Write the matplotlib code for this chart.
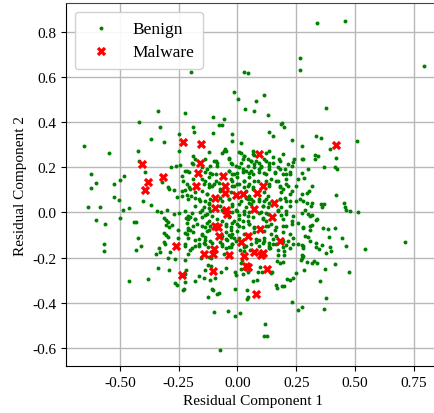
import numpy as np
import matplotlib
matplotlib.use("Agg")
import matplotlib.pyplot as plt

# benign points (x, y)
benign = [
    (-0.198, 0.622), (-0.337, 0.447), (-0.221, 0.439), (-0.417, 0.400), (-0.328, 0.379),
    (0.026, 0.622), (0.046, 0.616), (0.267, 0.683), (0.266, 0.632), (-0.014, 0.533),
    (0.003, 0.501), (0.113, 0.521), (0.078, 0.492), (0.034, 0.456), (0.069, 0.450),
    (0.129, 0.430), (-0.103, 0.421), (-0.057, 0.415), (-0.187, 0.378), (-0.079, 0.385),
    (-0.066, 0.388), (0.188, 0.394), (0.200, 0.376), (0.338, 0.839), (0.458, 0.847),
    (0.795, 0.650), (0.376, 0.464),
    # left part
    (-0.249, 0.345), (-0.366, 0.324), (-0.313, 0.312), (-0.654, 0.296), (-0.544, 0.265),
    (-0.424, 0.270), (-0.250, 0.270), (-0.419, 0.228), (-0.392, 0.181), (-0.284, 0.199),
    (-0.260, 0.206), (-0.243, 0.209), (-0.216, 0.184), (-0.204, 0.181), (-0.194, 0.221),
    (-0.622, 0.170), (-0.599, 0.132), (-0.624, 0.107), (-0.526, 0.128), (-0.501, 0.144),
    (-0.480, 0.161), (-0.319, 0.136), (-0.297, 0.112), (-0.289, 0.102), (-0.269, 0.098),
    (-0.524, 0.070), (-0.504, 0.056), (-0.401, 0.050), (-0.366, 0.032), (-0.257, 0.067),
    (-0.237, 0.096), (-0.223, 0.100), (-0.204, 0.113), (-0.216, 0.076), (-0.198, 0.071),
    (-0.637, 0.025), (-0.585, 0.025), (-0.488, 0.009), (-0.460, 0.022), (-0.340, 0.006),
    (-0.323, 0.004), (-0.300, 0.010), (-0.270, -0.006), (-0.250, -0.001),
    (-0.602, -0.034), (-0.563, -0.053), (-0.501, -0.025), (-0.438, -0.041), (-0.430, -0.041),
    (-0.313, -0.026), (-0.305, -0.034), (-0.297, -0.040), (-0.302, -0.056), (-0.290, -0.063),
    (-0.280, -0.057), (-0.310, -0.089), (-0.303, -0.100), (-0.294, -0.107), (-0.254, -0.079),
    (-0.220, -0.026), (-0.208, -0.027), (-0.201, -0.019), (-0.211, -0.070), (-0.201, -0.079),
    (-0.216, -0.095), (-0.424, -0.111), (-0.568, -0.138), (-0.408, -0.148), (-0.332, -0.156),
    (-0.254, -0.113), (-0.309, -0.141),
    # lower left
    (-0.566, -0.172), (-0.432, -0.164), (-0.328, -0.175), (-0.344, -0.184), (-0.312, -0.132),
    (-0.288, -0.176), (-0.297, -0.201), (-0.266, -0.206), (-0.223, -0.139), (-0.200, -0.168),
    (-0.208, -0.185), (-0.221, -0.210), (-0.339, -0.244), (-0.290, -0.253), (-0.461, -0.302),
    (-0.379, -0.295), (-0.217, -0.253), (-0.267, -0.313), (-0.256, -0.321), (-0.223, -0.308),
    (-0.225, -0.338), (-0.233, -0.344),
    # lower middle
    (-0.193, -0.159), (-0.165, -0.138), (-0.141, -0.136), (-0.125, -0.154), (-0.156, -0.200),
    (-0.122, -0.197), (-0.111, -0.200), (-0.065, -0.141), (-0.075, -0.132), (-0.055, -0.185),
    (-0.026, -0.153), (-0.022, -0.138), (0.010, -0.164), (0.029, -0.154), (0.026, -0.172),
    (0.019, -0.209), (0.014, -0.224), (0.055, -0.164), (0.079, -0.132), (0.108, -0.135),
    (0.093, -0.150), (0.139, -0.159), (0.151, -0.138), (0.172, -0.167), (0.172, -0.190),
    (0.197, -0.172), (0.197, -0.188), (0.208, -0.145), (0.238, -0.141), (0.259, -0.138),
    (0.276, -0.143), (0.273, -0.187), (0.276, -0.201), (0.269, -0.209), (0.251, -0.267),
    (0.168, -0.216), (0.180, -0.224), (0.194, -0.221), (0.096, -0.239), (0.089, -0.261),
    (0.103, -0.265), (0.147, -0.261), (0.144, -0.268), (0.017, -0.250), (0.024, -0.271),
    (0.043, -0.265), (-0.012, -0.262), (-0.007, -0.277), (-0.049, -0.246), (-0.070, -0.265),
    (-0.094, -0.288), (-0.221, -0.272), (-0.180, -0.305), (-0.165, -0.283), (-0.144, -0.290),
    (-0.115, -0.298), (-0.137, -0.253), (-0.125, -0.232), (-0.111, -0.236), (-0.108, -0.339),
    (-0.103, -0.345), (-0.079, -0.357), (-0.086, -0.360), (-0.125, -0.375), (-0.012, -0.339),
    (0.042, -0.342), (0.068, -0.302), (0.082, -0.298), (0.047, -0.375), (0.040, -0.384),
    (0.164, -0.321), (0.169, -0.333), (0.190, -0.323), (0.197, -0.323), (0.211, -0.295),
    (0.225, -0.298), (0.238, -0.290), (0.233, -0.394), (0.257, -0.431), (0.276, -0.416),
    (-0.098, -0.441), (-0.040, -0.437), (-0.012, -0.458), (0.010, -0.446), (0.116, -0.493),
    (0.111, -0.547), (0.126, -0.547), (-0.076, -0.606),
    # lower right
    (0.335, -0.133), (0.358, -0.144), (0.332, -0.152), (0.346, -0.160), (0.394, -0.152),
    (0.398, -0.172), (0.375, -0.179), (0.280, -0.155), (0.460, -0.148), (0.543, -0.161),
    (0.714, -0.130), (0.280, -0.194), (0.294, -0.219), (0.316, -0.222), (0.325, -0.213),
    (0.338, -0.222), (0.414, -0.228), (0.284, -0.256), (0.372, -0.249), (0.475, -0.261),
    (0.353, -0.302), (0.378, -0.376), (0.369, -0.428),
    # right
    (0.335, 0.338), (0.356, 0.330), (0.510, 0.314), (0.395, 0.283), (0.330, 0.256),
    (0.341, 0.252), (0.328, 0.237), (0.418, 0.239), (0.280, 0.236), (0.366, 0.200),
    (0.414, 0.203), (0.422, 0.194), (0.284, 0.151), (0.306, 0.095), (0.296, 0.084),
    (0.421, 0.076), (0.280, 0.050), (0.312, 0.028), (0.356, 0.036), (0.366, 0.037),
    (0.358, 0.025), (0.454, 0.040), (0.456, 0.025), (0.460, 0.013), (0.477, 0.008),
    (0.513, 0.004), (0.302, -0.006), (0.316, -0.012), (0.339, -0.028), (0.332, -0.034),
    (0.316, -0.055), (0.309, -0.076), (0.280, -0.064), (0.362, -0.068), (0.384, -0.074),
    (0.414, -0.070), (0.287, -0.105), (0.299, -0.108), (0.389, -0.108), (0.444, -0.111),
    # centre
    (-0.185, 0.354), (-0.105, 0.351), (-0.022, 0.347), (0.134, 0.358), (0.151, 0.339),
    (0.187, 0.393), (0.230, 0.321), (-0.022, 0.317), (0.014, 0.306),
    (-0.053, 0.283), (-0.050, 0.273), (-0.065, 0.265), (0.014, 0.265), (0.029, 0.250),
    (0.065, 0.273), (0.072, 0.253), (0.122, 0.265), (0.273, 0.295), (0.241, 0.236),
    (0.237, 0.224), (0.177, 0.236), (0.151, 0.221),
    (-0.180, 0.236), (-0.093, 0.228), (-0.086, 0.221), (-0.036, 0.243), (-0.029, 0.221),
    (-0.007, 0.206), (0.014, 0.221), (0.043, 0.236), (0.057, 0.228), (0.079, 0.228),
    (0.093, 0.221), (0.122, 0.228), (0.136, 0.221), (0.101, 0.206), (0.273, 0.236),
    (-0.223, 0.184), (-0.129, 0.191), (-0.115, 0.176), (-0.093, 0.169), (-0.036, 0.184),
    (-0.022, 0.169), (0.000, 0.176), (0.022, 0.191), (0.036, 0.184), (0.050, 0.176),
    (0.065, 0.169), (0.072, 0.199), (0.093, 0.191), (0.115, 0.176), (0.136, 0.191),
    (0.158, 0.176), (0.180, 0.191), (0.208, 0.169), (0.223, 0.169), (0.259, 0.147),
    (0.273, 0.176), (0.302, 0.191), (-0.237, 0.161),
    (-0.230, 0.139), (-0.216, 0.124), (-0.201, 0.102), (-0.136, 0.139), (-0.122, 0.124),
    (-0.108, 0.117), (-0.079, 0.132), (-0.072, 0.102), (-0.022, 0.139), (-0.014, 0.117),
    (0.007, 0.124), (0.029, 0.139), (0.043, 0.117), (0.065, 0.102), (0.086, 0.139),
    (0.122, 0.139), (0.136, 0.124), (0.165, 0.139), (0.180, 0.117), (0.194, 0.102),
    (0.208, 0.124), (0.230, 0.095), (0.251, 0.117), (0.273, 0.080), (0.316, 0.117),
    (-0.237, 0.073), (-0.208, 0.058), (-0.180, 0.065), (-0.158, 0.050), (-0.129, 0.080),
    (-0.122, 0.043), (-0.072, 0.065), (-0.036, 0.058), (-0.022, 0.036), (0.014, 0.050),
    (0.036, 0.065), (0.050, 0.043), (0.057, 0.058), (0.093, 0.050), (0.108, 0.028),
    (0.122, 0.058), (0.136, 0.043), (0.180, 0.058), (0.201, 0.065), (0.223, 0.050),
    (0.251, 0.050), (0.266, 0.058), (0.295, 0.043), (0.316, 0.043),
    (-0.223, 0.006), (-0.208, -0.016), (-0.194, -0.001), (-0.151, 0.013), (-0.136, -0.009),
    (-0.122, 0.021), (-0.108, -0.016), (-0.065, 0.013), (-0.036, -0.016), (-0.007, 0.013),
    (0.007, -0.009), (0.029, 0.006), (0.043, -0.016), (0.093, -0.001), (0.108, -0.024),
    (0.122, -0.001), (0.172, 0.013), (0.187, -0.009), (0.208, 0.006), (0.237, -0.016),
    (0.273, -0.001), (0.309, -0.016), (0.287, 0.013),
    (-0.216, -0.046), (-0.187, -0.061), (-0.180, -0.031), (-0.151, -0.061), (-0.129, -0.046),
    (-0.122, -0.076), (-0.065, -0.039), (-0.050, -0.061), (-0.029, -0.076), (-0.022, -0.046),
    (0.007, -0.061), (0.022, -0.039), (0.050, -0.053), (0.072, -0.068), (0.122, -0.061),
    (0.144, -0.053), (0.158, -0.076), (0.194, -0.061), (0.230, -0.053), (0.259, -0.046),
    (0.280, -0.068), (0.309, -0.061), (-0.208, -0.076), (-0.223, -0.090),
    (-0.208, -0.113), (-0.180, -0.120), (-0.151, -0.098), (-0.136, -0.120), (-0.108, -0.135),
    (-0.065, -0.105), (-0.043, -0.120), (-0.036, -0.098), (-0.014, -0.113), (0.007, -0.113),
    (0.043, -0.098), (0.093, -0.120), (0.115, -0.113), (0.136, -0.135), (0.165, -0.105),
    (0.194, -0.127), (0.237, -0.113), (0.280, -0.150), (0.309, -0.127), (-0.223, -0.150),
    (-0.165, -0.150), (-0.050, -0.157), (0.136, -0.157), (0.223, -0.157),
    # dense core
    (-0.057, 0.274), (0.007, 0.266), (0.029, 0.251), (0.065, 0.259), (0.136, 0.274),
    (0.151, 0.244), (0.194, 0.259), (-0.187, 0.251), (-0.122, 0.266),
    (-0.137, 0.237), (-0.100, 0.229), (-0.036, 0.237), (0.022, 0.237), (0.057, 0.229),
    (0.115, 0.237), (0.180, 0.229), (0.216, 0.215), (-0.187, 0.215),
    (-0.151, 0.200), (-0.115, 0.207), (-0.086, 0.207), (-0.022, 0.215), (0.007, 0.200),
    (0.043, 0.207), (0.072, 0.215), (0.101, 0.200), (0.136, 0.207), (0.172, 0.200),
    (0.201, 0.192), (0.230, 0.207),
    (-0.137, 0.178), (-0.108, 0.170), (-0.036, 0.185), (-0.014, 0.170), (0.022, 0.178),
    (0.057, 0.185), (0.093, 0.178), (0.122, 0.170), (0.158, 0.178), (0.194, 0.170),
    (0.223, 0.178),
    (-0.187, 0.148), (-0.151, 0.148), (-0.122, 0.155), (-0.093, 0.141), (-0.029, 0.148),
    (0.000, 0.155), (0.029, 0.141), (0.050, 0.155), (0.072, 0.141), (0.144, 0.148),
    (0.172, 0.141), (0.208, 0.148),
    (-0.144, 0.126), (-0.122, 0.111), (-0.100, 0.126), (-0.022, 0.119), (0.000, 0.126),
    (0.029, 0.111), (0.050, 0.126), (0.065, 0.111), (0.136, 0.119), (0.180, 0.111),
    (0.216, 0.119),
    (-0.180, 0.089), (-0.151, 0.096), (-0.129, 0.082), (-0.072, 0.096), (-0.029, 0.089),
    (0.036, 0.096), (0.050, 0.074), (0.115, 0.089), (0.129, 0.074), (0.187, 0.089),
    (0.223, 0.082),
    (-0.165, 0.060), (-0.137, 0.052), (-0.115, 0.060), (-0.065, 0.052), (-0.036, 0.060),
    (0.043, 0.060), (0.065, 0.052), (0.093, 0.060), (0.115, 0.052), (0.180, 0.060),
    (0.208, 0.052),
    (-0.180, 0.030), (-0.144, 0.023), (-0.122, 0.037), (-0.072, 0.030), (-0.022, 0.030),
    (0.007, 0.037), (0.036, 0.023), (0.057, 0.037), (0.108, 0.030), (0.129, 0.023),
    (0.187, 0.023), (0.223, 0.030),
    (-0.158, 0.001), (-0.129, -0.007), (-0.115, 0.008), (-0.022, 0.001), (0.000, 0.008),
    (0.029, -0.007), (0.050, 0.001), (0.101, 0.001), (0.129, -0.007), (0.172, 0.008),
    (0.208, -0.007),
    (-0.180, -0.029), (-0.151, -0.021), (-0.122, -0.036), (-0.086, -0.029), (-0.036, -0.021),
    (-0.014, -0.036), (0.007, -0.029), (0.043, -0.036), (0.065, -0.021), (0.108, -0.029),
    (0.122, -0.036), (0.194, -0.029), (0.230, -0.036),
    (-0.172, -0.051), (-0.137, -0.066), (-0.115, -0.058), (-0.050, -0.051), (-0.029, -0.066),
    (0.000, -0.051), (0.022, -0.066), (0.050, -0.051), (0.072, -0.066), (0.129, -0.058),
    (0.165, -0.066), (0.208, -0.058),
    (-0.187, -0.088), (-0.151, -0.095), (-0.129, -0.080), (-0.050, -0.088), (-0.022, -0.095),
    (0.000, -0.080), (0.029, -0.095), (0.072, -0.088), (0.115, -0.080), (0.144, -0.095),
    (0.194, -0.088), (0.223, -0.095),
    (-0.165, -0.117), (-0.137, -0.110), (-0.115, -0.124), (-0.050, -0.117), (-0.029, -0.110),
    (-0.007, -0.124), (0.079, -0.117), (0.115, -0.124), (0.151, -0.117), (0.216, -0.124),
    (-0.180, -0.147), (-0.137, -0.139), (-0.065, -0.147), (-0.036, -0.154), (-0.022, -0.139),
    (0.036, -0.147), (0.057, -0.139), (0.136, -0.147), (0.165, -0.139), (0.194, -0.154),
]

malware = [
    (-0.233, 0.310), (-0.405, 0.216), (-0.381, 0.136), (-0.394, 0.098), (-0.315, 0.159),
    (-0.259, -0.150), (-0.234, -0.276), (0.417, 0.299), (-0.155, 0.302), (0.093, 0.258),
    (-0.161, 0.221), (-0.168, 0.173), (-0.062, 0.161), (-0.177, 0.117), (-0.053, 0.117),
    (0.108, 0.117), (-0.053, 0.084), (-0.094, 0.065), (-0.004, 0.076), (0.022, 0.081),
    (0.082, 0.084), (0.154, 0.043), (-0.094, 0.021), (-0.050, 0.013), (-0.046, -0.006),
    (0.072, 0.016), (0.148, -0.021), (-0.096, -0.058), (-0.082, -0.064), (0.096, -0.072),
    (-0.079, -0.105), (0.047, -0.105), (-0.098, -0.160), (-0.142, -0.182), (-0.102, -0.185),
    (-0.036, -0.187), (0.014, -0.129), (0.027, -0.194), (0.036, -0.236), (0.047, -0.241),
    (0.070, -0.175), (0.108, -0.179), (0.102, -0.190), (0.180, -0.124), (0.124, -0.249),
    (-0.103, -0.258), (0.078, -0.361),
]

bx, by = np.array(benign).T
mx, my = np.array(malware).T

plt.rcParams["font.family"] = ["Liberation Serif", "DejaVu Serif"]
plt.rcParams["axes.unicode_minus"] = True

fig = plt.figure(figsize=(4.35, 4.14), dpi=100)
ax = fig.add_axes([0.152, 0.1135, 0.86, 0.876])

ax.scatter(bx, by, s=8, c="green", marker="o", linewidths=0, label="Benign", zorder=2)
ax.scatter(mx, my, s=45, c="red", marker="X", linewidths=0, label="Malware", zorder=3)

ax.set_xlim(-0.728, 0.862)
ax.set_ylim(-0.679, 0.925)
ax.set_xticks([-0.5, -0.25, 0, 0.25, 0.5, 0.75])
ax.set_yticks([-0.6, -0.4, -0.2, 0, 0.2, 0.4, 0.6, 0.8])
ax.xaxis.set_major_formatter(matplotlib.ticker.FormatStrFormatter("%.2f"))
ax.yaxis.set_major_formatter(matplotlib.ticker.FormatStrFormatter("%.1f"))
ax.grid(True, color="#b8b8b8", linewidth=1.0)
ax.set_axisbelow(True)
ax.tick_params(labelsize=11, length=3.5, width=0.8, colors="black")
ax.spines["right"].set_visible(False)
ax.spines["top"].set_color("#444444")

ax.set_xlabel("Residual Component 1", fontsize=11)
ax.set_ylabel("Residual Component 2", fontsize=11)
ax.legend(loc="upper left", fontsize=12.5, handletextpad=0.8, borderpad=0.5,
          labelspacing=0.4, framealpha=0.9)

fig.savefig("out.png", dpi=100)
